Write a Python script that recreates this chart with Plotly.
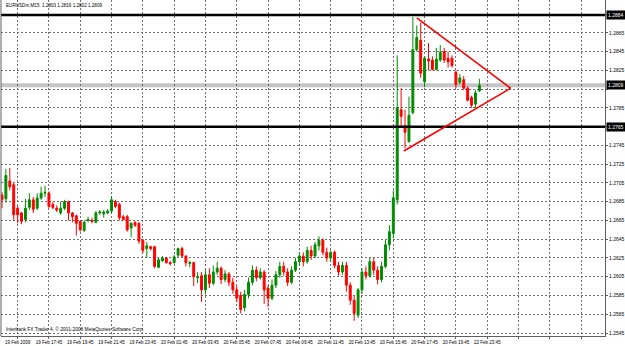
import plotly.graph_objects as go

# ---- data: EURUSDm M15 candles, prices in points (1.2809 -> 12809) ----
open_pts = [12692,12688,12707,12703,12678,12673,12666,12679,12687,12678,
            12689,12694,12694,12682,12678,12673,12678,12685,12673,12670,
            12664,12654,12665,12665,12663,12673,12672,12673,12675,12685,
            12682,12669,12669,12657,12663,12662,12644,12635,12637,12637,
            12615,12622,12625,12620,12620,12628,12635,12627,12619,12620,
            12604,12606,12591,12607,12598,12610,12614,12602,12608,12599,
            12591,12585,12572,12586,12599,12612,12604,12610,12593,12582,
            12596,12607,12616,12610,12599,12612,12621,12627,12621,12633,
            12627,12638,12644,12631,12625,12631,12617,12610,12617,12596,
            12580,12564,12591,12610,12606,12621,12612,12602,12616,12639,
            12651,12687,12783,12766,12749,12780,12847,12857,12813,12837,
            12836,12826,12836,12845,12838,12838,12823,12812,12815,12806,
            12796,12789,12803]
high_pts = [12695,12720,12721,12705,12680,12674,12688,12694,12690,12694,
            12701,12702,12696,12685,12681,12685,12687,12686,12674,12671,
            12665,12665,12669,12668,12675,12676,12676,12677,12691,12687,
            12684,12671,12671,12663,12664,12663,12645,12642,12638,12638,
            12625,12627,12626,12622,12628,12636,12637,12628,12622,12621,
            12610,12610,12612,12614,12617,12621,12616,12612,12610,12604,
            12595,12589,12591,12604,12617,12616,12614,12612,12596,12602,
            12611,12621,12621,12614,12616,12625,12631,12631,12637,12638,
            12642,12648,12646,12636,12633,12633,12621,12621,12621,12599,
            12585,12593,12614,12616,12625,12625,12616,12621,12644,12660,
            12697,12841,12806,12783,12797,12882,12873,12876,12840,12854,
            12840,12849,12852,12849,12845,12841,12825,12821,12819,12808,
            12798,12804,12816]
low_pts = [12678,12684,12697,12665,12662,12661,12663,12676,12673,12676,
           12687,12690,12678,12677,12674,12671,12676,12665,12663,12649,
           12653,12653,12663,12662,12662,12671,12668,12672,12673,12678,
           12665,12665,12653,12647,12658,12640,12630,12625,12633,12614,
           12614,12621,12619,12617,12619,12626,12626,12616,12615,12595,
           12598,12578,12586,12593,12596,12607,12597,12599,12595,12587,
           12578,12566,12568,12582,12596,12600,12602,12576,12573,12580,
           12593,12604,12606,12595,12597,12610,12617,12616,12619,12623,
           12625,12633,12628,12621,12621,12614,12606,12607,12589,12575,
           12558,12561,12587,12602,12604,12607,12597,12599,12614,12633,
           12646,12682,12764,12742,12748,12778,12845,12817,12807,12825,
           12825,12825,12834,12833,12828,12828,12806,12810,12804,12792,
           12785,12785,12802]
close_pts = [12687,12713,12701,12671,12671,12664,12678,12687,12677,12689,
             12694,12695,12680,12679,12676,12678,12685,12673,12669,12662,
             12655,12663,12666,12664,12673,12674,12674,12675,12687,12680,
             12668,12666,12655,12662,12660,12643,12633,12638,12635,12616,
             12623,12625,12620,12619,12626,12635,12627,12620,12620,12605,
             12605,12591,12607,12598,12610,12614,12602,12608,12599,12591,
             12582,12570,12586,12599,12612,12604,12610,12591,12582,12596,
             12607,12616,12610,12599,12612,12621,12627,12621,12633,12627,
             12639,12644,12631,12625,12631,12617,12610,12617,12596,12580,
             12566,12591,12610,12606,12621,12612,12602,12616,12639,12653,
             12689,12785,12776,12759,12777,12847,12860,12822,12838,12835,
             12826,12837,12844,12836,12834,12830,12810,12817,12806,12793,
             12788,12801,12809]

time_labels = ["19 Feb 2009", "19 Feb 17:45", "19 Feb 19:45", "19 Feb 21:45",
               "19 Feb 23:45", "20 Feb 01:45", "20 Feb 03:45", "20 Feb 05:45",
               "20 Feb 07:45", "20 Feb 09:45", "20 Feb 11:45", "20 Feb 13:45",
               "20 Feb 15:45", "20 Feb 17:45", "20 Feb 19:45", "22 Feb 23:45",
               "", "", ""]
label_bar_index = [4 + 8 * k for k in range(len(time_labels))]

price_ticks = [round(1.2545 + 0.0020 * j, 4) for j in range(18)]

hline_prices = [1.2884, 1.2765]        # black horizontal lines
bid_price = 1.2809                     # current price line
# triangle trend lines: (bar index, price)
tri_top = (106, 1.2881)
tri_apex = (130, 1.2806)
tri_bottom = (102.7, 1.2739)

header_text = "EURUSDm,M15  1.2803 1.2816 1.2802 1.2809"
copyright_text = "Interbank FX Trader 4, \u00a9 2001-2008 MetaQuotes Software Corp."

# ---- figure ----
scale = 10000.0
o = [v / scale for v in open_pts]
h = [v / scale for v in high_pts]
l = [v / scale for v in low_pts]
c = [v / scale for v in close_pts]
x = list(range(len(o)))

FONT = "Liberation Sans, Arial, sans-serif"
GREEN = "#008c00"
RED = "#ff0000"
GRID = "#707070"

fig = go.Figure()
fig.add_trace(go.Candlestick(
    x=x, open=o, high=h, low=l, close=c,
    increasing=dict(line=dict(color=GREEN, width=1), fillcolor=GREEN),
    decreasing=dict(line=dict(color=RED, width=1), fillcolor=RED),
    whiskerwidth=0, hoverinfo="skip", showlegend=False,
))

shapes = []
shapes.append(dict(type="line", xref="paper", yref="y", x0=0, x1=1,
                   y0=bid_price, y1=bid_price,
                   line=dict(color="#c4c4c4", width=4), layer="below"))
for p in hline_prices:
    shapes.append(dict(type="line", xref="paper", yref="y", x0=0, x1=1,
                       y0=p, y1=p, line=dict(color="black", width=2.5),
                       layer="above"))
for a, b in [(tri_top, tri_apex), (tri_apex, tri_bottom)]:
    shapes.append(dict(type="line", xref="x", yref="y", x0=a[0], y0=a[1],
                       x1=b[0], y1=b[1], line=dict(color=RED, width=1.6),
                       layer="above"))
shapes.append(dict(type="line", xref="paper", yref="paper", x0=0, x1=0,
                   y0=0, y1=1, line=dict(color="#606060", width=1)))

annotations = [
    dict(xref="paper", yref="paper", x=0, y=1, xanchor="left", yanchor="top",
         xshift=3, yshift=-1, text=header_text, showarrow=False,
         font=dict(family=FONT, size=4.6, color="black")),
    dict(xref="paper", yref="paper", x=0, y=0, xanchor="left", yanchor="bottom",
         xshift=3, yshift=2, text=copyright_text, showarrow=False,
         font=dict(family=FONT, size=4.8, color="black")),
]
for p in hline_prices + [bid_price]:
    annotations.append(dict(
        xref="paper", yref="y", x=1, y=p, xanchor="left", yanchor="middle",
        xshift=1, text=f"{p:.4f}", showarrow=False, bgcolor="black",
        borderpad=1, font=dict(family=FONT, size=5, color="white")))

# hide tick texts that sit under the line / bid labels
hidden = set()
for p in hline_prices + [bid_price]:
    nearest = min(price_ticks, key=lambda t: abs(t - p))
    if abs(nearest - p) < 0.0007:
        hidden.add(nearest)
tick_text = ["" if t in hidden else f"{t:.4f}" for t in price_ticks]

fig.update_layout(
    width=625, height=346,
    margin=dict(l=1, r=18, t=0, b=10),
    paper_bgcolor="white", plot_bgcolor="white",
    shapes=shapes, annotations=annotations,
    showlegend=False,
    xaxis=dict(
        range=[-0.25, 154.1], rangeslider=dict(visible=False),
        tickmode="array", tickvals=label_bar_index, ticktext=time_labels,
        tickangle=0,
        showgrid=True, gridcolor=GRID, griddash="2px,2px", gridwidth=1,
        showline=True, linecolor="#606060", linewidth=1,
        ticks="outside", ticklen=2, tickcolor="#606060",
        tickfont=dict(family=FONT, size=4.5, color="black"),
        zeroline=False, fixedrange=True,
    ),
    yaxis=dict(
        side="right", range=[1.25418, 1.2900],
        tickmode="array", tickvals=price_ticks, ticktext=tick_text,
        showgrid=True, gridcolor=GRID, griddash="2px,2px", gridwidth=1,
        showline=True, linecolor="#606060", linewidth=1,
        ticks="outside", ticklen=2, tickcolor="#606060",
        tickfont=dict(family=FONT, size=5, color="black"),
        zeroline=False, fixedrange=True,
    ),
)

fig.write_html("out.html", config={"displayModeBar": False})
